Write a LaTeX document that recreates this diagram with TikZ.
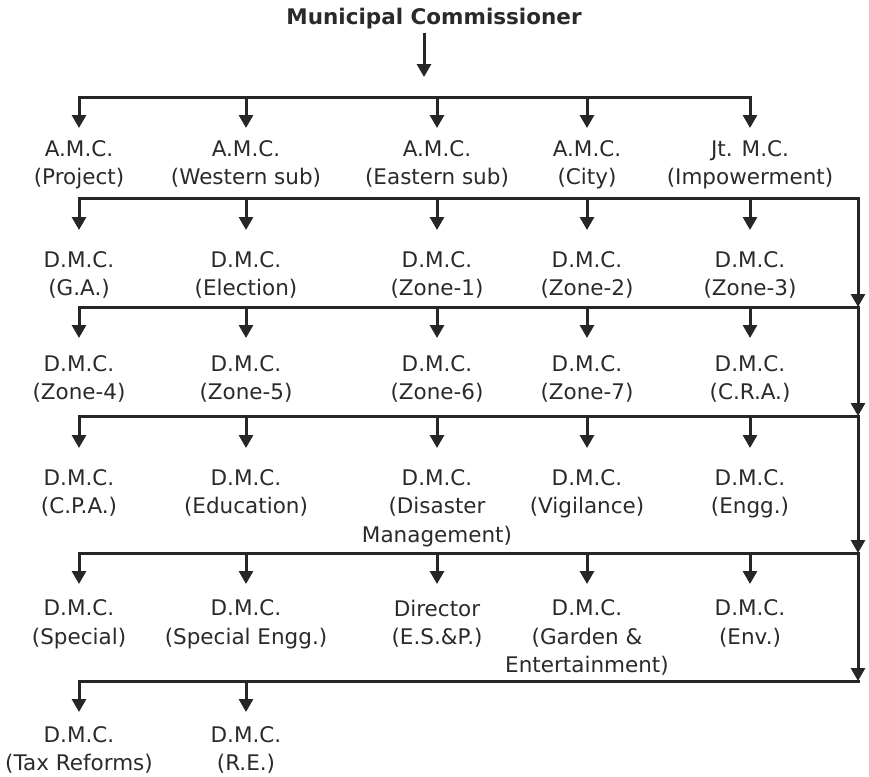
\documentclass[tikz,border=0pt]{standalone}
\usepackage{fontspec}
\setmainfont{DejaVu Sans}
\usetikzlibrary{arrows.meta}
\definecolor{ink}{HTML}{262626}
\definecolor{txt}{HTML}{2A2A2A}
\begin{document}
\begin{tikzpicture}[x=1pt,y=-1pt,
  ln/.style={draw=ink,line width=3pt,line cap=rect},
  arr/.style={draw=ink,line width=3pt,-{Triangle[length=13pt,width=14pt]}},
  box/.style={align=center,anchor=north,inner xsep=0pt,inner ysep=2pt,text=txt,font=\fontsize{21.5}{28.5}\selectfont}]
\useasboundingbox (0,0) rectangle (869,776);

% title
\node[anchor=base,inner sep=3pt,text=txt,font=\fontsize{21.5}{26}\selectfont\bfseries] (title) at (434,25) {Municipal Commissioner};
\coordinate (T) at (424,77);
\draw[arr] (title.south -| T) -- (T);

% bar coordinates
\coordinate (L1) at (79,97);  \coordinate (R1) at (750,97);
\coordinate (L2) at (79,198); \coordinate (R2) at (858,198);
\coordinate (L3) at (79,307); \coordinate (R3) at (858,307);
\coordinate (L4) at (79,416); \coordinate (R4) at (858,416);
\coordinate (L5) at (79,553); \coordinate (R5) at (858,553);
\coordinate (L6) at (79,681); \coordinate (R6) at (858,681);

% row 1 (arrow tips at y=128)
\begin{scope}[every node/.append style={box}]
\node (a1) at (79,138)  {A.M.C.\\(Project)};
\node (a2) at (246,138) {A.M.C.\\(Western sub)};
\node (a3) at (437,138) {A.M.C.\\(Eastern sub)};
\node (a4) at (587,138) {A.M.C.\\(City)};
\node (a5) at (750,138) {Jt. M.C.\\(Impowerment)};
% row 2 (tips at 230)
\node (b1) at (79,249)  {D.M.C.\\(G.A.)};
\node (b2) at (246,249) {D.M.C.\\(Election)};
\node (b3) at (437,249) {D.M.C.\\(Zone-1)};
\node (b4) at (587,249) {D.M.C.\\(Zone-2)};
\node (b5) at (750,249) {D.M.C.\\(Zone-3)};
% row 3 (tips at 338)
\node (c1) at (79,353)  {D.M.C.\\(Zone-4)};
\node (c2) at (246,353) {D.M.C.\\(Zone-5)};
\node (c3) at (437,353) {D.M.C.\\(Zone-6)};
\node (c4) at (587,353) {D.M.C.\\(Zone-7)};
\node (c5) at (750,353) {D.M.C.\\(C.R.A.)};
% row 4 (tips at 448)
\node (d1) at (79,467)  {D.M.C.\\(C.P.A.)};
\node (d2) at (246,467) {D.M.C.\\(Education)};
\node (d3) at (437,467) {D.M.C.\\(Disaster\\Management)};
\node (d4) at (587,467) {D.M.C.\\(Vigilance)};
\node (d5) at (750,467) {D.M.C.\\(Engg.)};
% row 5 (tips at 584)
\node (e1) at (79,597.5)  {D.M.C.\\(Special)};
\node (e2) at (246,597.5) {D.M.C.\\(Special Engg.)};
\node (e3) at (437,597.5) {Director\\(E.S.\&P.)};
\node (e4) at (587,597.5) {D.M.C.\\(Garden \&\\Entertainment)};
\node (e5) at (750,597.5) {D.M.C.\\(Env.)};
% row 6 (tips at 712)
\node (f1) at (79,724)  {D.M.C.\\(Tax Reforms)};
\node (f2) at (246,724) {D.M.C.\\(R.E.)};
\end{scope}

% bars
\foreach \i in {1,...,6} \draw[ln] (L\i) -- (R\i);
% right trunk
\draw[arr] (R2) -- (R3);
\draw[arr] (R3) -- (R4);
\draw[arr] (R4) -- (R5);
\draw[arr] (R5) -- (R6);

% branch arrows (tip = gap above each node's top)
\foreach \n in {a1,a2,a3,a4,a5} \draw[arr] (\n.north |- L1) -- ([yshift=10pt]\n.north);
\foreach \n in {b1,b2,b3,b4,b5} \draw[arr] (\n.north |- L2) -- ([yshift=19pt]\n.north);
\foreach \n in {c1,c2,c3,c4,c5} \draw[arr] (\n.north |- L3) -- ([yshift=15pt]\n.north);
\foreach \n in {d1,d2,d3,d4,d5} \draw[arr] (\n.north |- L4) -- ([yshift=19pt]\n.north);
\foreach \n in {e1,e2,e3,e4,e5} \draw[arr] (\n.north |- L5) -- ([yshift=13.5pt]\n.north);
\foreach \n in {f1,f2} \draw[arr] (\n.north |- L6) -- ([yshift=12pt]\n.north);
\end{tikzpicture}
\end{document}
